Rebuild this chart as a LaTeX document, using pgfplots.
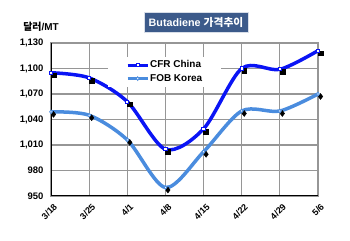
\documentclass[border=0pt]{standalone}
\usepackage{pgfplots}
\pgfplotsset{compat=1.18}
\usepackage{fontspec}
\setmainfont{Liberation Sans}
\newfontfamily\kr{Noto Sans CJK KR}
\definecolor{cfr}{RGB}{10,20,245}
\definecolor{fob}{RGB}{74,140,222}
\definecolor{titlebg}{RGB}{60,90,138}
\definecolor{gridc}{RGB}{150,150,150}
\begin{document}
\begin{tikzpicture}
\useasboundingbox (0,0) rectangle (350bp,241bp);
\node[fill=titlebg, draw=white!80!titlebg, line width=0.6bp, minimum width=104bp, minimum height=20bp, inner sep=0pt, text=white, font=\bfseries\fontsize{10.8}{12}\selectfont] at (196bp,219bp) {Butadiene {\kr 가격추이}};
\node[font=\fontsize{10}{12}\selectfont\bfseries, inner sep=0pt] at (41bp,214bp) {{\kr 달러}/MT};
\begin{axis}[at={(51bp,45bp)}, anchor=south west, scale only axis,
  width=267bp, height=153bp,
  xmin=0, xmax=7, ymin=950, ymax=1130,
  xtick={0,...,7}, xticklabels={3/18,3/25,4/1,4/8,4/15,4/22,4/29,5/6},
  ytick={950,980,1010,1040,1070,1100,1130},
  grid=major, major grid style={gridc, line width=1.2bp},
  axis line style={gridc, line width=1.2bp},
  major tick length=0pt,
  ticklabel style={font=\bfseries\fontsize{9.5}{10}\selectfont},
  /pgf/number format/assume math mode=true,
  /pgf/number format/1000 sep={,},
  yticklabel style={xshift=-4bp},
  xticklabel style={rotate=45, anchor=north east, yshift=-3bp, font=\bfseries\fontsize{9}{10}\selectfont},
  legend style={draw=none, fill=white, at={(0.2135,0.912)}, anchor=north west,
    font=\bfseries\fontsize{10}{11}\selectfont, row sep=3bp, inner xsep=18bp, inner ysep=3bp,
    nodes={inner sep=1bp}},
  legend cell align=left,
  legend image code/.code={\draw[#1, line width=3bp] (0bp,0bp) -- (20bp,0bp); \draw[#1, only marks] plot coordinates {(10bp,0bp)};},
]
% shadows of markers
\addplot[black, only marks, mark=square*, mark size=2.4bp, xshift=2.5bp, yshift=-2.5bp, forget plot]
  coordinates {(0,1095) (1,1089) (2,1061) (3,1005) (4,1029) (5,1100) (6,1099) (7,1121)};
\addplot[black, only marks, mark=diamond*, mark size=3bp, xshift=2.5bp, yshift=-2.5bp, forget plot]
  coordinates {(0,1049) (1,1045) (2,1016) (3,960) (4,1002) (5,1050) (6,1050) (7,1070)};
\addplot[cfr, line width=3.5bp, smooth, mark=square*, mark options={fill=white, line width=1bp, scale=0.8, solid}]
  coordinates {(0,1095) (1,1089) (2,1061) (3,1005) (4,1029) (5,1100) (6,1099) (7,1121)};
\addlegendentry{CFR China}
\addplot[fob, line width=3.5bp, smooth, mark=diamond*, mark options={fill=white, line width=0.8bp, scale=0.9, solid}]
  coordinates {(0,1049) (1,1045) (2,1016) (3,960) (4,1002) (5,1050) (6,1050) (7,1070)};
\addlegendentry{FOB Korea}
\draw[black, line width=1.5bp] (rel axis cs:0,1) -- (rel axis cs:0,0) -- (rel axis cs:1,0);
\end{axis}
\end{tikzpicture}
\end{document}
